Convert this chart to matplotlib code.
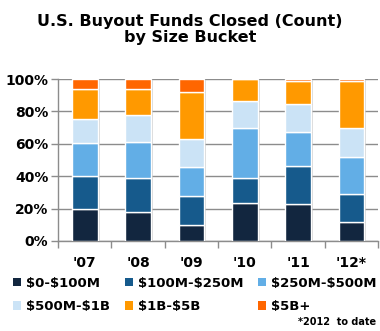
import numpy as np
import matplotlib
matplotlib.use("Agg")
import matplotlib.pyplot as plt
from matplotlib.patches import Patch
import matplotlib.patheffects as pe

# --- Data (percent of funds closed, by size bucket) ---
years = ["'07", "'08", "'09", "'10", "'11", "'12*"]
buckets = ["$0-$100M", "$100M-$250M", "$250M-$500M",
           "$500M-$1B", "$1B-$5B", "$5B+"]
b_0_100m = [20.0, 17.7, 9.7, 23.3, 22.7, 11.5]
b_100_250m = [20.0, 21.0, 17.9, 15.4, 23.4, 17.3]
b_250_500m = [20.7, 22.2, 18.3, 30.9, 21.0, 23.2]
b_500m_1b = [14.4, 16.7, 16.9, 16.6, 17.5, 17.6]
b_1b_5b = [18.9, 16.0, 29.0, 13.8, 14.0, 29.0]
b_5b_plus = [6.0, 6.4, 8.2, 0.0, 1.4, 1.4]

colors = ["#12263f", "#165a8c", "#62aee6", "#cbe3f6", "#ff9900", "#ff6600"]

series = [b_0_100m, b_100_250m, b_250_500m, b_500m_1b, b_1b_5b, b_5b_plus]

plt.rcParams["text.parse_math"] = False

fig = plt.figure(figsize=(3.8, 3.31), dpi=100)
ax = fig.add_axes([0.153, 0.272, 0.842, 0.489])

x = np.arange(len(years))
bottom = np.zeros(len(years))
shadow = [pe.SimplePatchShadow(offset=(1.5, -0.5), shadow_rgbFace="#bbbbbb", alpha=0.6), pe.Normal()]
for vals, col in zip(series, colors):
    vals = np.array(vals)
    bars = ax.bar(x, vals, bottom=bottom, width=0.48, color=col,
                  edgecolor="white", linewidth=1.0, zorder=3)
    for b in bars:
        b.set_path_effects(shadow)
    bottom += vals

ax.set_xlim(-0.5, len(years) - 0.5)
ax.set_ylim(0, 100)
ax.set_yticks(range(0, 101, 20))
ax.set_yticklabels([f"{v}%" for v in range(0, 101, 20)],
                   fontsize=10, fontweight="bold")
ax.yaxis.grid(True, color="#8c8c8c", linewidth=1.0, zorder=0)
ax.set_axisbelow(True)

ax.set_xticks(x)
ax.set_xticklabels(years, fontsize=10, fontweight="bold")
ax.set_xticks(np.arange(-0.5, len(years)), minor=True)
ax.tick_params(axis="x", which="major", length=0, pad=11)
ax.tick_params(axis="x", which="minor", length=5, color="#8c8c8c", width=1)
ax.tick_params(axis="y", length=5, color="#8c8c8c", width=1, pad=2)

for side in ["top", "right"]:
    ax.spines[side].set_visible(False)
for side in ["left", "bottom"]:
    ax.spines[side].set_color("#8c8c8c")
    ax.spines[side].set_linewidth(1.0)

fig.text(0.5, 0.958, "U.S. Buyout Funds Closed (Count)\nby Size Bucket",
         ha="center", va="top", fontsize=11.5, fontweight="bold",
         linespacing=1.1)

# legend fills column by column, so reorder to read row by row
order = [0, 3, 1, 4, 2, 5]
handles = [Patch(facecolor=colors[i], edgecolor="none") for i in order]
labels = [buckets[i] for i in order]
fig.legend(handles, labels, loc="upper left", bbox_to_anchor=(0.02, 0.18),
           ncol=3, frameon=False, prop={"size": 9.5, "weight": "bold"},
           handlelength=0.6, handleheight=0.6, handletextpad=0.4,
           columnspacing=1.1, labelspacing=0.8, borderaxespad=0)

fig.text(0.99, 0.012, "*2012  to date", ha="right", va="bottom",
         fontsize=7, fontweight="bold")

fig.savefig("out.png", dpi=100)
